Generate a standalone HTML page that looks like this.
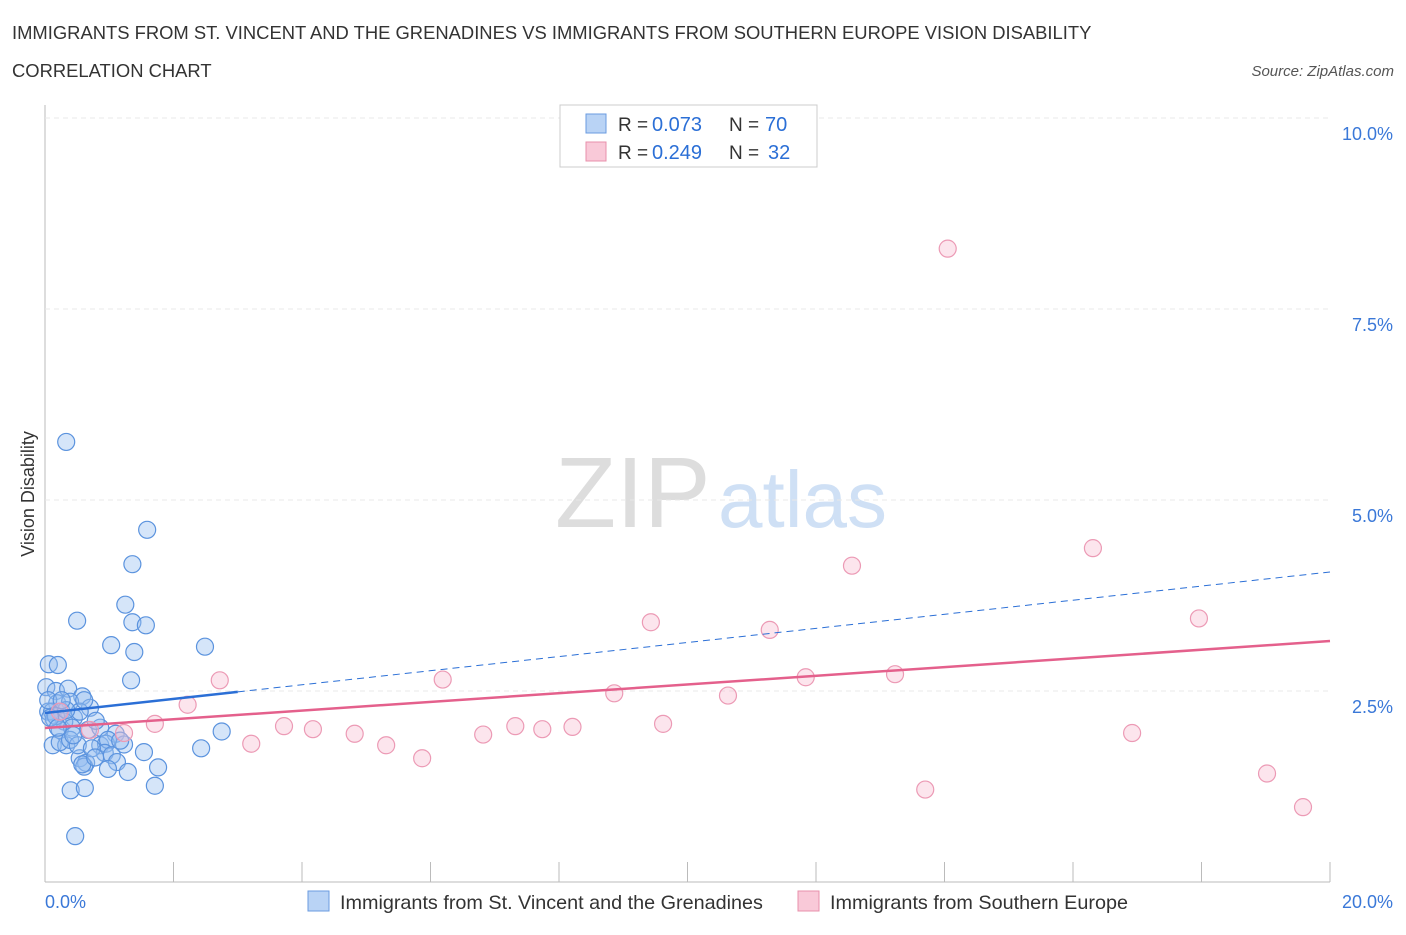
<!DOCTYPE html>
<html><head><meta charset="utf-8"><style>
body{margin:0;background:#fff;font-family:"Liberation Sans",sans-serif}
svg text{font-family:"Liberation Sans",sans-serif}
</style></head><body>
<svg id="c" width="1406" height="930">
<text x="12" y="39" font-size="18.4" fill="#333">IMMIGRANTS FROM ST. VINCENT AND THE GRENADINES VS IMMIGRANTS FROM SOUTHERN EUROPE VISION DISABILITY</text>
<text x="12" y="77" font-size="18.4" fill="#333">CORRELATION CHART</text>
<text x="1394" y="76" font-size="15" fill="#555" font-style="italic" text-anchor="end">Source: ZipAtlas.com</text>
<text x="555" y="527" font-size="100" fill="#ddd" font-family="Liberation Serif">ZIP</text>
<text x="718" y="527" font-size="80" fill="#cfe0f5">atlas</text>
<text transform="translate(34,494) rotate(-90)" font-size="18" fill="#333" text-anchor="middle">Vision Disability</text>
<g id="grid"></g><g id="pts"></g><g id="lines"></g>
<g>
<rect x="560" y="105" width="257" height="62" fill="#fff" stroke="#ccc"/>
<rect x="586" y="114" width="20" height="19" fill="#b9d3f5" stroke="#6a9be0"/>
<rect x="586" y="142" width="20" height="19" fill="#f9c9d8" stroke="#e890ab"/>
<text x="618" y="131" font-size="19" fill="#333">R = </text><text x="652" y="131" font-size="20" fill="#2b6fd6">0.073</text>
<text x="729" y="131" font-size="19" fill="#333">N = </text><text x="765" y="131" font-size="20" fill="#2b6fd6">70</text>
<text x="618" y="159" font-size="19" fill="#333">R = </text><text x="652" y="159" font-size="20" fill="#2b6fd6">0.249</text>
<text x="729" y="159" font-size="19" fill="#333">N = </text><text x="768" y="159" font-size="20" fill="#2b6fd6">32</text>
</g>
<g>
<rect x="308" y="891" width="21" height="20" fill="#b9d3f5" stroke="#6a9be0"/>
<text x="340" y="909" font-size="19.8" fill="#333">Immigrants from St. Vincent and the Grenadines</text>
<rect x="798" y="891" width="21" height="20" fill="#f9c9d8" stroke="#e890ab"/>
<text x="830" y="909" font-size="19.8" fill="#333">Immigrants from Southern Europe</text>
</g>
</svg>
<script>
const yTicks=[2.5,5.0,7.5,10.0];
const yTickLabels=["2.5%","5.0%","7.5%","10.0%"];
const xTickLabels=["0.0%","20.0%"];
const blueX=[0.33,1.59,1.36,1.25,0.50,1.36,1.57,1.03,1.39,2.49,0.06,0.20,1.34,0.02,0.17,0.36,0.58,0.19,0.39,0.70,0.05,0.11,0.26,0.45,0.14,0.30,0.54,0.23,0.42,0.67,0.86,1.10,0.12,0.33,0.23,0.39,0.86,0.95,1.23,0.98,2.75,2.43,1.54,0.54,0.64,0.93,1.04,0.61,0.58,1.12,0.98,1.29,1.76,0.40,0.62,1.71,0.47,0.05,0.17,0.33,0.51,0.73,0.78,0.26,0.08,0.20,0.61,1.17,0.79,0.44];
const blueY=[5.76,4.61,4.16,3.63,3.42,3.40,3.36,3.10,3.01,3.08,2.85,2.84,2.64,2.55,2.50,2.53,2.43,2.34,2.36,2.28,2.23,2.23,2.23,2.15,2.13,2.10,2.23,1.99,2.02,1.99,2.02,1.94,1.79,1.79,1.83,1.86,1.79,1.81,1.80,1.86,1.97,1.75,1.70,1.62,1.56,1.69,1.66,1.51,1.54,1.57,1.48,1.44,1.50,1.20,1.23,1.26,0.60,2.38,2.17,2.25,1.79,1.75,1.63,2.38,2.15,2.02,2.38,1.85,2.11,1.92];
const pinkX=[14.05,16.31,12.56,9.43,11.28,17.96,11.84,13.23,2.72,6.19,8.86,10.63,2.22,1.71,3.72,4.17,4.82,5.31,3.21,5.87,6.82,7.32,7.74,8.21,9.62,16.92,19.02,13.70,19.58,1.23,0.70,0.23];
const pinkY=[8.29,4.37,4.14,3.40,3.30,3.45,2.68,2.72,2.64,2.65,2.47,2.44,2.32,2.07,2.04,2.00,1.94,1.79,1.81,1.62,1.93,2.04,2.00,2.03,2.07,1.95,1.42,1.21,0.98,1.95,1.99,2.23];
const blueTrend=[2.212,4.058];
const pinkTrend=[2.016,3.154];
const X0=45,X1=1330,Y0=882,YPX=191/2.5;
const sx=v=>X0+(v/20)*(X1-X0), sy=v=>Y0-v*YPX;
const NS="http://www.w3.org/2000/svg";
function mk(t,a,p){const e=document.createElementNS(NS,t);for(const k in a)e.setAttribute(k,a[k]);document.getElementById(p).appendChild(e);return e;}
let ax=mk('line',{x1:X0,y1:105,x2:X0,y2:Y0,stroke:'#bbb'},'grid');


let bx=mk('line',{x1:X0,y1:Y0,x2:X1,y2:Y0,stroke:'#bbb'},'grid');


yTicks.forEach((t,i)=>{
 const g=mk('line',{x1:X0,y1:sy(t),x2:X1,y2:sy(t),stroke:'#e8e8e8','stroke-dasharray':'5,4'},'grid');
 
 
 const l=mk('text',{x:1393,y:sy(t)+22,'font-size':18,fill:'#3a78d8','text-anchor':'end'},'grid');
 l.textContent=yTickLabels[i];
 
 
});
for(let i=0;i<=10;i++){
 const x=X0+i*(X1-X0)/10;
 const t=mk('line',{x1:x,y1:Y0-20,x2:x,y2:Y0,stroke:'#bbb'},'grid');
 
 
}
[[45,'start'],[1393,'end']].forEach((p,i)=>{
 const l=mk('text',{x:p[0],y:908,'font-size':18,fill:'#3a78d8','text-anchor':p[1]},'grid');
 l.textContent=xTickLabels[i];
 
 
});
blueX.forEach((v,i)=>{
 const c=mk('circle',{cx:sx(v),cy:sy(blueY[i]),r:8.5,fill:'rgba(150,190,240,0.4)',stroke:'#5b93de','stroke-width':1.2},'pts');
 
 
});
pinkX.forEach((v,i)=>{
 const c=mk('circle',{cx:sx(v),cy:sy(pinkY[i]),r:8.5,fill:'rgba(248,190,210,0.4)',stroke:'#ec9ab5','stroke-width':1.2},'pts');
 
 
});
const bAt=x=>blueTrend[0]+(blueTrend[1]-blueTrend[0])*x/20;
let l1=mk('line',{x1:sx(0),y1:sy(bAt(0)),x2:sx(3),y2:sy(bAt(3)),stroke:'#2b6fd6','stroke-width':2.5},'lines');


let l2=mk('line',{x1:sx(3),y1:sy(bAt(3)),x2:sx(20),y2:sy(bAt(20)),stroke:'#2b6fd6','stroke-width':1,'stroke-dasharray':'7,5'},'lines');


let l3=mk('line',{x1:sx(0),y1:sy(pinkTrend[0]),x2:sx(20),y2:sy(pinkTrend[1]),stroke:'#e4608c','stroke-width':2.5},'lines');


</script>
</body></html>
